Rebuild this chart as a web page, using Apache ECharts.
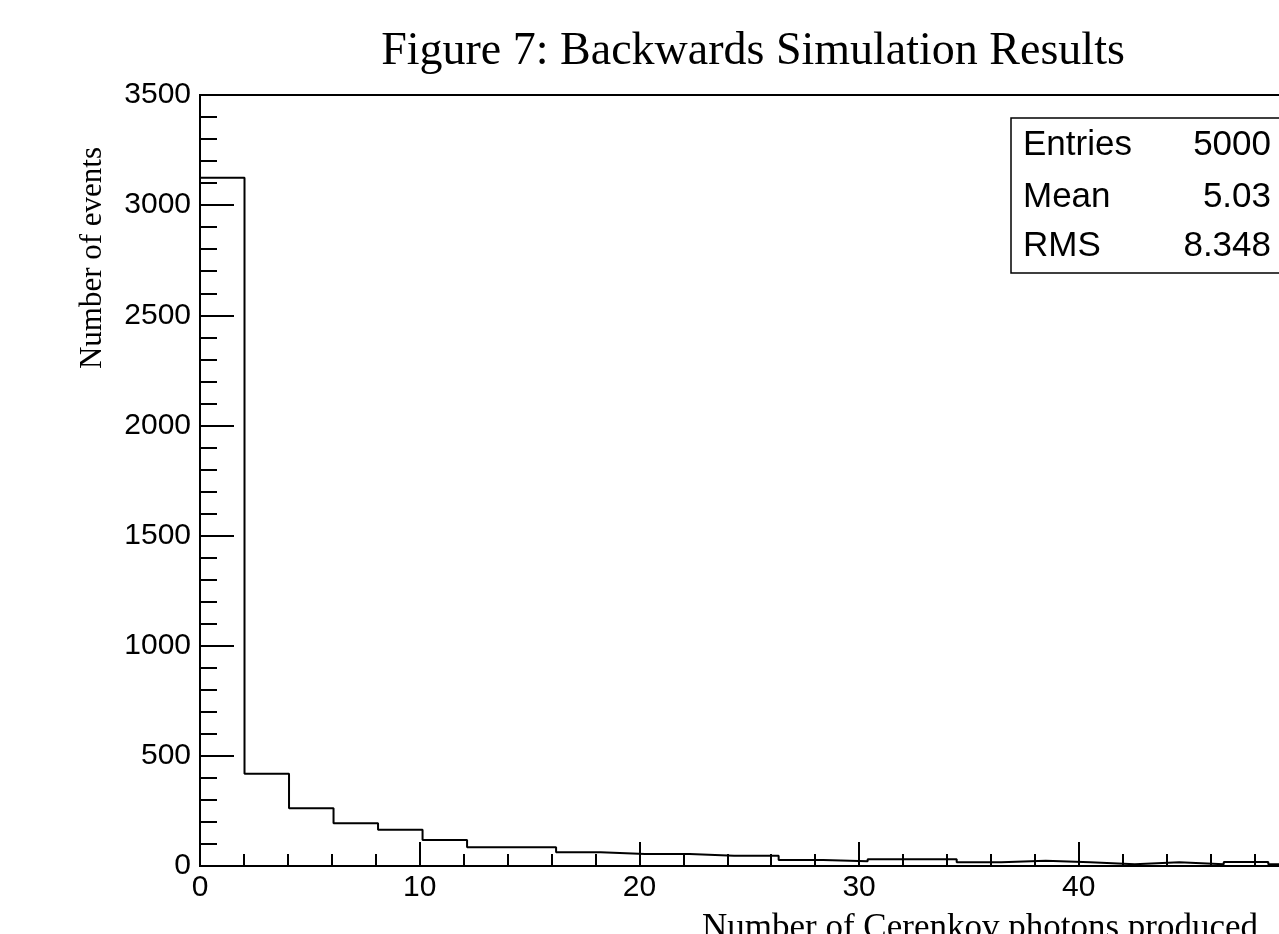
<!DOCTYPE html>
<html lang="en">
<head>
    <meta charset="UTF-8">
    <title>Figure 7</title>
    <script src="https://cdn.jsdelivr.net/npm/echarts@6/dist/echarts.min.js"></script>
    <style>
        html, body { margin: 0; padding: 0; background: #fff; }
    </style>
</head>
<body>
<div id="showbox" style="width:1279px; height:934px;"></div>
</body>
<script type="text/javascript">
    // histogram contents, bin width ~2.026
    var binWidth = 2.026;
    var counts = [3124, 419, 262, 194, 164, 118, 85, 85, 62, 55, 55, 47, 47, 27, 21,
                  31, 31, 17, 24, 17, 8, 17, 8, 18, 8];
    var xTicks = [0, 10, 20, 30, 40];
    var yTicks = [0, 500, 1000, 1500, 2000, 2500, 3000, 3500];
    var statNames = ['Entries', 'Mean', 'RMS'];
    var statValues = ['5000', '5.03', '8.348'];

    var stepData = [[0, 0]];
    for (var i = 0; i < counts.length; i++) {
        stepData.push([i * binWidth, counts[i]]);
    }
    stepData.push([counts.length * binWidth, 0]);

    var sans = 'Liberation Sans, Arial, sans-serif';
    var serif = 'Liberation Serif, Times New Roman, serif';

    var statRows = [145, 197.5, 246];
    var graphics = [
        {
            type: 'text', x: 753, y: 52,
            style: { text: 'Figure 7: Backwards Simulation Results', font: '46px ' + serif, fill: '#000', textAlign: 'center', textVerticalAlign: 'middle' }
        },
        {
            type: 'text', x: 93, y: 258, rotation: Math.PI / 2,
            style: { text: 'Number of events', font: '31px ' + serif, fill: '#000', textAlign: 'center', textVerticalAlign: 'middle' }
        },
        {
            type: 'text', x: 1258, y: 929,
            style: { text: 'Number of Cerenkov photons produced', font: '35px ' + serif, fill: '#000', textAlign: 'right', textVerticalAlign: 'middle' }
        },
        {
            type: 'rect', shape: { x: 1011, y: 118, width: 320, height: 155 },
            style: { fill: '#fff', stroke: '#000', lineWidth: 1.5 }, z: 10
        }
    ];
    for (var k = 0; k < statNames.length; k++) {
        graphics.push({
            type: 'text', x: 1023, y: statRows[k], z: 11,
            style: { text: statNames[k], font: '35px ' + sans, fill: '#000', textAlign: 'left', textVerticalAlign: 'middle' }
        });
        graphics.push({
            type: 'text', x: 1271, y: statRows[k], z: 11,
            style: { text: statValues[k], font: '35px ' + sans, fill: '#000', textAlign: 'right', textVerticalAlign: 'middle' }
        });
    }

    var chart = echarts.init(document.getElementById('showbox'));
    chart.setOption({
        animation: false,
        grid: {
            left: 200, top: 95, width: 1098.5, height: 771,
            outerBoundsMode: 'none', containLabel: false,
            show: true, borderColor: '#000', borderWidth: 2, backgroundColor: 'transparent'
        },
        xAxis: {
            type: 'value', min: 0, max: 50, interval: 10,
            axisLine: { show: true, onZero: false, lineStyle: { color: '#000', width: 2 } },
            axisTick: { show: true, inside: true, length: 24, lineStyle: { color: '#000', width: 2 } },
            minorTick: { show: true, splitNumber: 5, length: 12, lineStyle: { color: '#000', width: 2 } },
            splitLine: { show: false },
            axisLabel: {
                color: '#000', fontFamily: sans, fontSize: 30, margin: 7,
                formatter: function (v) { return xTicks.indexOf(v) >= 0 ? String(v) : ''; }
            }
        },
        yAxis: {
            type: 'value', min: 0, max: 3500, interval: 500,
            axisLine: { show: true, lineStyle: { color: '#000', width: 2 } },
            axisTick: { show: true, inside: true, length: 34, lineStyle: { color: '#000', width: 2 } },
            minorTick: { show: true, splitNumber: 5, length: 17, lineStyle: { color: '#000', width: 2 } },
            splitLine: { show: false },
            axisLabel: {
                color: '#000', fontFamily: sans, fontSize: 30, margin: 9,
                formatter: function (v) { return yTicks.indexOf(v) >= 0 ? String(v) : ''; }
            }
        },
        series: [{
            type: 'line',
            step: 'end',
            symbol: 'none',
            lineStyle: { color: '#000', width: 2 },
            data: stepData
        }],
        graphic: graphics
    });
</script>
</html>
